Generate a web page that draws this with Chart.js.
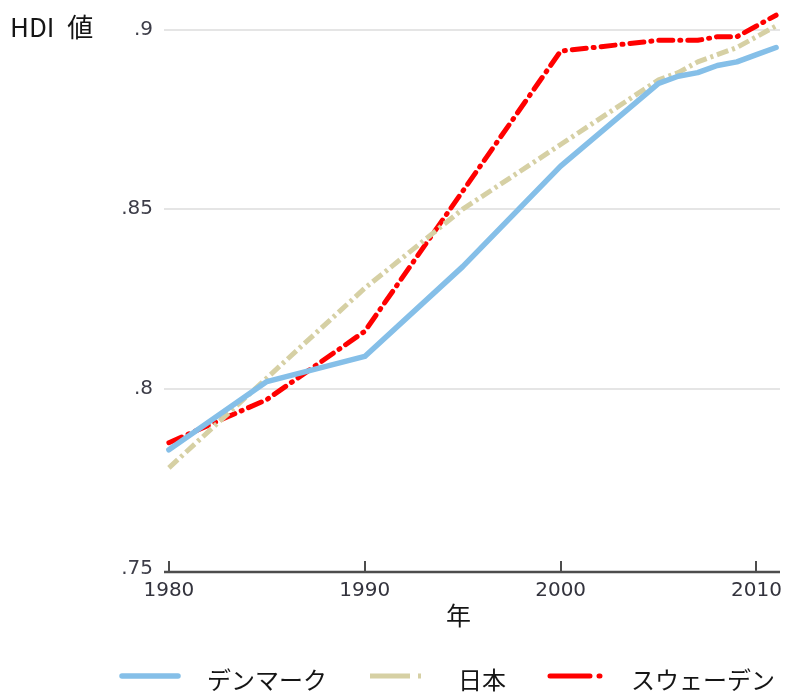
<!DOCTYPE html>
<html>
<head>
<meta charset="utf-8">
<script src="https://cdn.jsdelivr.net/npm/chart.js@4/dist/chart.umd.min.js"></script>
<style>
  html, body { margin: 0; padding: 0; background: #fff; }
  #wrap { position: relative; width: 795px; height: 693px; overflow: hidden; background: #fff; }
  #c { position: absolute; left: 0; top: 0; }
  .txt { position: absolute; font-family: "Noto Sans CJK JP", "Noto Sans", sans-serif; color: #151515; white-space: nowrap; line-height: 1; }
  .legline { position: absolute; }
</style>
</head>
<body>
<div id="wrap">
  <canvas id="c" width="795" height="693"></canvas>
  <div class="txt" style="left:10px; top:13px; font-size:26px; word-spacing:7px;">HDI 値</div>
  <div class="txt" style="left:446px; top:602px; font-size:25px;">年</div>
  <div id="legend"></div>
</div>
<script>
// Human Development Index, 1980–2011
const years   = [1980, 1985, 1990, 1995, 2000, 2005, 2006, 2007, 2008, 2009, 2010, 2011];
const denmark = [0.783, 0.802, 0.809, 0.834, 0.862, 0.885, 0.887, 0.888, 0.890, 0.891, 0.893, 0.895];
const japan   = [0.778, 0.803, 0.828, 0.850, 0.868, 0.886, 0.888, 0.891, 0.893, 0.895, 0.898, 0.901];
const sweden  = [0.785, 0.797, 0.816, 0.855, 0.894, 0.897, 0.897, 0.897, 0.898, 0.898, 0.901, 0.904];

const seriesNames = ['デンマーク', '日本', 'スウェーデン'];
const xTickValues = [1980, 1990, 2000, 2010];
const yTickValues = [0.75, 0.8, 0.85, 0.9];
const yTickLabels = ['.75', '.8', '.85', '.9'];

// line styles
const styles = [
  { color: '#85bfe8', width: 5.5, dash: [], cap: 'round', legendDash: '' },
  { color: '#d6d0a4', width: 5, dash: [12, 4, 3, 4], cap: 'butt', legendDash: '40 8 3 6' },
  { color: '#ff0000', width: 5, dash: [14, 7, 1, 7], cap: 'round', legendDash: '40 9 1 20' }
];

const toPoints = vals => years.map((yr, i) => ({ x: yr, y: vals[i] }));
const seriesValues = [denmark, japan, sweden];

const datasets = seriesValues.map((vals, i) => ({
  label: seriesNames[i],
  data: toPoints(vals),
  borderColor: styles[i].color,
  backgroundColor: styles[i].color,
  borderWidth: styles[i].width,
  borderDash: styles[i].dash,
  borderCapStyle: styles[i].cap,
  borderJoinStyle: 'round',
  pointRadius: 0,
  tension: 0,
  fill: false
}));

// x axis baseline with upward tick marks
const axisPlugin = {
  id: 'bottomAxis',
  beforeDatasetsDraw(chart) {
    const { ctx, chartArea, scales } = chart;
    const y = chartArea.bottom;
    ctx.save();
    ctx.strokeStyle = '#4d4d4d';
    ctx.lineWidth = 2.5;
    ctx.beginPath();
    ctx.moveTo(chartArea.left, y);
    ctx.lineTo(chartArea.right, y);
    ctx.stroke();
    ctx.lineWidth = 2;
    xTickValues.forEach(v => {
      const px = Math.round(scales.x.getPixelForValue(v));
      ctx.beginPath();
      ctx.moveTo(px, y);
      ctx.lineTo(px, y - 11);
      ctx.stroke();
    });
    ctx.restore();
  }
};

new Chart(document.getElementById('c'), {
  type: 'line',
  data: { datasets },
  options: {
    responsive: false,
    animation: false,
    layout: { padding: { left: 0, right: 15, top: 8, bottom: 0 } },
    plugins: { legend: { display: false }, tooltip: { enabled: false }, title: { display: false } },
    scales: {
      x: {
        type: 'linear',
        min: 1979.75,
        max: 2011.2,
        afterBuildTicks: s => { s.ticks = xTickValues.map(v => ({ value: v })); },
        afterFit: s => { s.height = 121; s.paddingLeft = 0; s.paddingRight = 0; },
        grid: { display: false, drawTicks: false },
        border: { display: false },
        ticks: {
          padding: 7,
          maxRotation: 0,
          color: '#33333d',
          font: { family: 'DejaVu Sans', size: 20 },
          callback: v => String(v)
        }
      },
      y: {
        min: 0.749,
        max: 0.906,
        afterBuildTicks: s => { s.ticks = yTickValues.map(v => ({ value: v })); },
        afterFit: s => { s.width = 164; s.paddingTop = 0; s.paddingBottom = 0; },
        grid: {
          drawTicks: false,
          lineWidth: 2,
          color: ctx => (ctx.tick && Math.abs(ctx.tick.value - 0.75) < 1e-6) ? 'rgba(0,0,0,0)' : '#e5e5e5'
        },
        border: { display: false },
        ticks: {
          padding: 11,
          color: '#3d3d48',
          font: { family: 'DejaVu Sans', size: 20 },
          callback: v => {
            const i = yTickValues.findIndex(t => Math.abs(t - v) < 1e-6);
            return i >= 0 ? yTickLabels[i] : '';
          }
        }
      }
    }
  },
  plugins: [axisPlugin]
});

// legend row
const legendLineLeft = [122, 370, 550];
const legendTextLeft = [207, 458, 631];
const legend = document.getElementById('legend');
seriesNames.forEach((name, i) => {
  const st = styles[i];
  const svgNS = 'http://www.w3.org/2000/svg';
  const svg = document.createElementNS(svgNS, 'svg');
  svg.setAttribute('class', 'legline');
  svg.setAttribute('width', '62');
  svg.setAttribute('height', '12');
  svg.style.left = (legendLineLeft[i] - 3) + 'px';
  svg.style.top = '670px';
  const ln = document.createElementNS(svgNS, 'line');
  ln.setAttribute('x1', '3'); ln.setAttribute('x2', '59');
  ln.setAttribute('y1', '6'); ln.setAttribute('y2', '6');
  ln.setAttribute('stroke', st.color);
  ln.setAttribute('stroke-width', st.width);
  ln.setAttribute('stroke-linecap', st.cap);
  if (st.legendDash) ln.setAttribute('stroke-dasharray', st.legendDash);
  svg.appendChild(ln);
  legend.appendChild(svg);
  const t = document.createElement('div');
  t.className = 'txt';
  t.style.left = legendTextLeft[i] + 'px';
  t.style.top = '667px';
  t.style.fontSize = '24px';
  t.textContent = name;
  legend.appendChild(t);
});
</script>
</body>
</html>
